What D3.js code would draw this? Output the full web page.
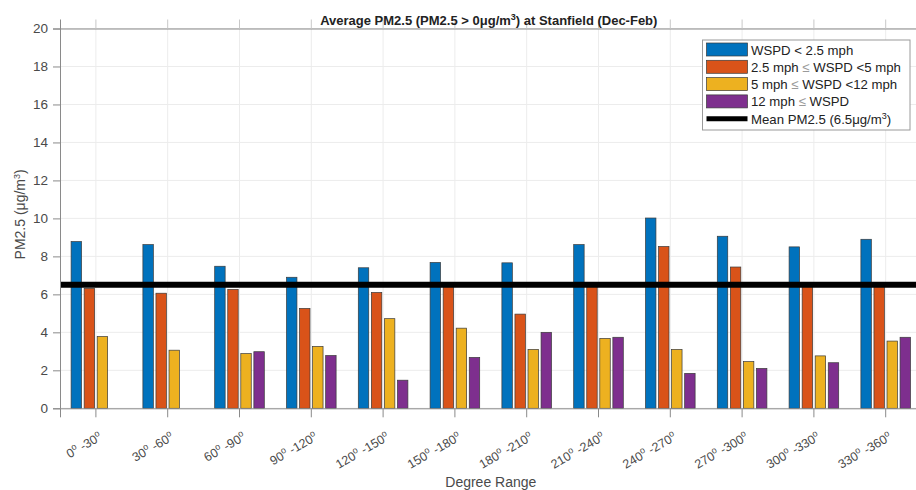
<!DOCTYPE html>
<html>
<head>
<meta charset="utf-8">
<script src="https://cdn.jsdelivr.net/npm/d3@7/dist/d3.min.js"></script>
<style>
  html, body { margin: 0; padding: 0; background: #fff; }
  svg { display: block; font-family: "Liberation Sans", Arial, sans-serif; }
</style>
</head>
<body>
<svg id="chart" width="916" height="490"></svg>
<script>
// Degree-range bins (lower / upper bound in degrees)
const binStart = [0, 30, 60, 90, 120, 150, 180, 210, 240, 270, 300, 330];
const binEnd   = [30, 60, 90, 120, 150, 180, 210, 240, 270, 300, 330, 360];

// Wind-speed classes
const seriesNames = ["slow", "light", "moderate", "strong"];

// Average PM2.5 (µg/m³) per degree range, one array per wind-speed class
const wspdBelow2_5 = [8.78, 8.62, 7.48, 6.90, 7.40, 7.68, 7.66, 8.62, 10.02, 9.06, 8.50, 8.90];
const wspd2_5to5   = [6.32, 6.06, 6.26, 5.26, 6.10, 6.56, 4.96, 6.56, 8.52, 7.44, 6.56, 6.56];
const wspd5to12    = [3.78, 3.06, 2.88, 3.26, 4.72, 4.22, 3.10, 3.68, 3.10, 2.46, 2.76, 3.54];
const wspdAbove12  = [null, null, 2.98, 2.78, 1.48, 2.68, 4.00, 3.74, 1.84, 2.10, 2.40, 3.74];

const meanPM = 6.5;
const yTicks = [0, 2, 4, 6, 8, 10, 12, 14, 16, 18, 20];

const colors = ["#0072BD", "#D95319", "#EDB120", "#7E2F8E"];
const seriesValues = [wspdBelow2_5, wspd2_5to5, wspd5to12, wspdAbove12];

(function () {
const svg = d3.select("#chart");
const pL = 60, pR = 921.6, pT = 28.5, pB = 408.3;

const categories = binStart.map((d, i) => i);
const x = d3.scaleBand().domain(categories).range([pL, pR]).padding(0);
const groupW = x.bandwidth() * 4 / 5.5;
const xInner = d3.scaleBand().domain(seriesNames).range([0, groupW]).paddingInner(0.2).paddingOuter(0.1);
const y = d3.scaleLinear().domain([0, 20]).range([pB, pT]);

const axisColor = "#8a8a8a";
const textColor = "#4a4a4a";

// Grid
const grid = svg.append("g");
grid.selectAll("line.h").data(yTicks).join("line")
  .attr("x1", pL).attr("x2", pR)
  .attr("y1", d => y(d)).attr("y2", d => y(d))
  .attr("stroke", "#ececec").attr("stroke-width", 1);
grid.selectAll("line.v").data(categories).join("line")
  .attr("x1", d => x(d) + x.bandwidth() / 2).attr("x2", d => x(d) + x.bandwidth() / 2)
  .attr("y1", pT).attr("y2", pB)
  .attr("stroke", "#ececec").attr("stroke-width", 1);

// Bars
const rows = [];
categories.forEach(c => {
  seriesNames.forEach((s, si) => {
    const v = seriesValues[si][c];
    if (v != null) rows.push({ c, s, si, v });
  });
});
svg.append("g").selectAll("rect").data(rows).join("rect")
  .attr("x", d => x(d.c) + (x.bandwidth() - groupW) / 2 + xInner(d.s))
  .attr("width", xInner.bandwidth())
  .attr("y", d => y(d.v))
  .attr("height", d => y(0) - y(d.v))
  .attr("fill", d => colors[d.si])
  .attr("stroke", "#3a3a3a").attr("stroke-width", 0.7);

// Mean line
svg.append("line")
  .attr("x1", pL).attr("x2", pR)
  .attr("y1", y(meanPM)).attr("y2", y(meanPM))
  .attr("stroke", "#000").attr("stroke-width", 6);

// Axes
const xAxis = d3.axisBottom(x).tickSize(9).tickFormat("");
const gx = svg.append("g").attr("transform", `translate(0,${pB})`).call(xAxis);
gx.select(".domain").attr("stroke", axisColor);
gx.selectAll(".tick line").attr("stroke", axisColor);

const xTop = d3.axisTop(x).tickSize(9).tickFormat("");
const gt = svg.append("g").attr("transform", `translate(0,${pT})`).call(xTop);
gt.select(".domain").attr("stroke", axisColor);
gt.selectAll(".tick line").attr("stroke", "#c8c8c8");

const yAxis = d3.axisLeft(y).tickValues(yTicks).tickSize(7).tickPadding(5);
const gy = svg.append("g").attr("transform", `translate(${pL},0)`).call(yAxis);
gy.select(".domain").attr("stroke", axisColor);
gy.selectAll(".tick line").attr("stroke", axisColor);
gy.selectAll(".tick text").attr("fill", textColor)
  .style("font-size", "13.5px").style("font-family", "'Liberation Sans', Arial, sans-serif");

// Rotated category labels
const lab = svg.append("g").selectAll("text").data(categories).join("text")
  .attr("transform", d => `translate(${x(d) + x.bandwidth() / 2 + 7},${pB + 31}) rotate(-30)`)
  .attr("text-anchor", "end")
  .attr("fill", textColor)
  .style("font-size", "12.5px");
lab.append("tspan").text(d => binStart[d]);
lab.append("tspan").attr("dy", -5).style("font-size", "9px").text("o");
lab.append("tspan").attr("dy", 5).text(" -");
lab.append("tspan").text(d => binEnd[d]);
lab.append("tspan").attr("dy", -5).style("font-size", "9px").text("o");

// Axis titles
svg.append("text")
  .attr("x", (pL + pR) / 2).attr("y", 487)
  .attr("text-anchor", "middle").attr("fill", textColor)
  .style("font-size", "14px").text("Degree Range");

const yl = svg.append("text")
  .attr("transform", `translate(25,${(pT + pB) / 2 - 4}) rotate(-90)`)
  .attr("text-anchor", "middle").attr("fill", textColor)
  .style("font-size", "14px");
yl.append("tspan").text("PM2.5 (\u03bcg/m");
yl.append("tspan").attr("dy", -5).style("font-size", "9px").text("3");
yl.append("tspan").attr("dy", 5).text(")");

// Title
const title = svg.append("text")
  .attr("x", (pL + pR) / 2 - 2).attr("y", 24.5)
  .attr("text-anchor", "middle").attr("fill", "#222")
  .style("font-size", "13px").style("font-weight", "bold");
title.append("tspan").text("Average PM2.5 (PM2.5 > 0\u03bcg/m");
title.append("tspan").attr("dy", -5).style("font-size", "9px").text("3");
title.append("tspan").attr("dy", 5).text(") at Stanfield (Dec-Feb)");

// Legend
const lg = svg.append("g");
lg.append("rect").attr("x", 702.5).attr("y", 40).attr("width", 207.5).attr("height", 90)
  .attr("fill", "#fff").attr("stroke", "#9a9a9a").attr("stroke-width", 1);
const legendLabels = [
  ["WSPD < 2.5 mph"],
  ["2.5 mph ", "\u2264", " WSPD <5 mph"],
  ["5 mph ", "\u2264", " WSPD <12 mph"],
  ["12 mph ", "\u2264", " WSPD"]
];
const rowY = i => 49.5 + i * 17.3;
legendLabels.forEach((parts, i) => {
  lg.append("rect").attr("x", 706.5).attr("y", rowY(i) - 6.5).attr("width", 41).attr("height", 13)
    .attr("fill", colors[i]).attr("stroke", "#3a3a3a").attr("stroke-width", 0.7);
  const t = lg.append("text").attr("x", 751).attr("y", rowY(i) + 5)
    .attr("fill", "#222").style("font-size", "13.2px");
  parts.forEach((p, k) => t.append("tspan").attr("fill", k === 1 ? "#9a9a9a" : "#222").text(p));
});
const ly = rowY(4);
lg.append("line").attr("x1", 706.5).attr("x2", 747.5).attr("y1", ly).attr("y2", ly)
  .attr("stroke", "#000").attr("stroke-width", 5);
const lt = lg.append("text").attr("x", 751).attr("y", ly + 5)
  .attr("fill", "#222").style("font-size", "13.2px");
lt.append("tspan").text("Mean PM2.5 (6.5\u03bcg/m");
lt.append("tspan").attr("dy", -5).style("font-size", "9px").text("3");
lt.append("tspan").attr("dy", 5).text(")");
})();
</script>
</body>
</html>
